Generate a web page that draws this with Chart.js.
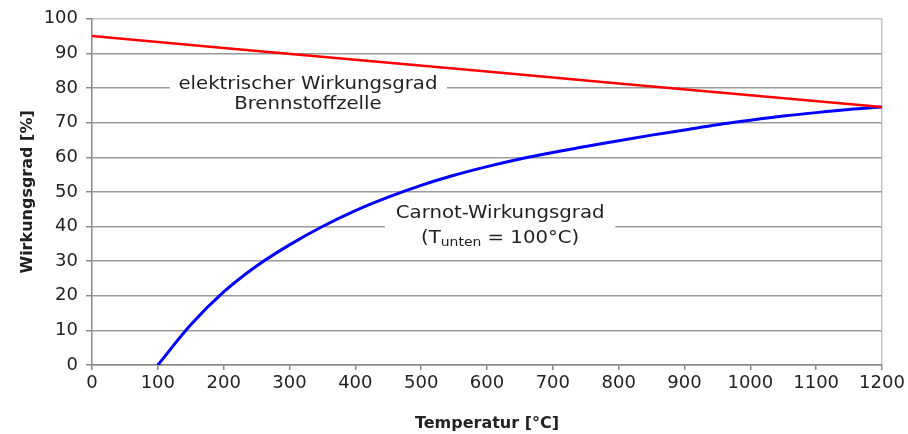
<!DOCTYPE html>
<html>
<head>
<meta charset="utf-8">
<script src="https://cdn.jsdelivr.net/npm/chart.js@4.4.1/dist/chart.umd.min.js"></script>
<style>
  html, body { margin: 0; padding: 0; background: #fff; }
  #wrap { width: 908px; height: 434px; }
</style>
</head>
<body>
<div id="wrap"><canvas id="myChart"></canvas></div>
<script>
// temperature in °C, efficiency in %
const redTemp = [0, 200, 400, 600, 800, 1000, 1200];
const redEta = [95, 91.6, 88.2, 84.8, 81.3, 77.9, 74.5];
const blueTemp = [100, 150, 200, 250, 300, 350, 400, 450, 500, 550, 600, 650, 700, 750, 800, 850, 900, 950, 1000, 1050, 1100, 1150, 1200];
const blueEta = [0, 11.6, 21.1, 28.6, 34.7, 40.0, 44.6, 48.5, 51.9, 54.8, 57.3, 59.5, 61.4, 63.1, 64.8, 66.4, 67.9, 69.4, 70.7, 71.9, 72.9, 73.8, 74.5];
const xTitle = 'Temperatur [°C]';
const yTitle = 'Wirkungsgrad [%]';
const fcLines = ['elektrischer Wirkungsgrad', 'Brennstoffzelle'];
const carnotLine = 'Carnot-Wirkungsgrad';

const FONT = "'DejaVu Sans', sans-serif";
const SX = 1.16; // the labels in the picture are drawn a bit wide

// text labels inside the plot, with white box behind them
const labelPlugin = {
  id: 'labels',
  beforeDatasetsDraw(chart) {
    const ctx = chart.ctx;
    const x = chart.scales.x, y = chart.scales.y;
    ctx.save();
    ctx.fillStyle = '#fff';
    // box over gridline 80
    ctx.fillRect(x.getPixelForValue(118), y.getPixelForValue(84.5), x.getPixelForValue(539) - x.getPixelForValue(118), y.getPixelForValue(71.5) - y.getPixelForValue(84.5));
    // box over gridline 40
    ctx.fillRect(x.getPixelForValue(445), y.getPixelForValue(48), x.getPixelForValue(795) - x.getPixelForValue(445), y.getPixelForValue(32.5) - y.getPixelForValue(48));

    ctx.fillStyle = '#222';
    ctx.textBaseline = 'middle';
    ctx.textAlign = 'center';
    const text = (s, cx, cy, size) => {
      ctx.save();
      ctx.font = size + 'px ' + FONT;
      ctx.translate(cx, cy);
      ctx.scale(SX, 1);
      ctx.fillText(s, 0, 0);
      ctx.restore();
    };
    const cx1 = x.getPixelForValue(328);
    text(fcLines[0], cx1, y.getPixelForValue(81.1), 17);
    text(fcLines[1], cx1, y.getPixelForValue(75.1), 17);

    const cx2 = x.getPixelForValue(620);
    text(carnotLine, cx2, y.getPixelForValue(43.6), 17);
    // (T_unten = 100°C)
    const py = y.getPixelForValue(36.4);
    const a = '(T', sub = 'unten', b = ' = 100°C)';
    ctx.font = '17px ' + FONT;
    const wa = ctx.measureText(a).width, wb = ctx.measureText(b).width;
    ctx.font = '12px ' + FONT;
    const ws = ctx.measureText(sub).width;
    ctx.translate(cx2, py);
    ctx.scale(SX, 1);
    const sx = -(wa + ws + wb) / 2;
    ctx.textAlign = 'left';
    ctx.font = '17px ' + FONT;
    ctx.fillText(a, sx, 0);
    ctx.font = '12px ' + FONT;
    ctx.fillText(sub, sx + wa, 4);
    ctx.font = '17px ' + FONT;
    ctx.fillText(b, sx + wa + ws, 0);
    ctx.restore();
  }
};

const ctx = document.getElementById('myChart').getContext('2d');
new Chart(ctx, {
  type: 'line',
  data: {
    datasets: [{
      data: redTemp.map((t, i) => ({ x: t, y: redEta[i] })),
      borderColor: '#ff0000',
      borderWidth: 2.5,
      pointRadius: 0,
      fill: false
    }, {
      data: blueTemp.map((t, i) => ({ x: t, y: blueEta[i] })),
      borderColor: '#0000ff',
      borderWidth: 3,
      pointRadius: 0,
      cubicInterpolationMode: 'monotone',
      fill: false
    }]
  },
  options: {
    responsive: true,
    maintainAspectRatio: false,
    animation: false,
    layout: { padding: { top: 16, right: 26, bottom: 0, left: 0 } },
    plugins: { legend: { display: false }, tooltip: { enabled: false } },
    scales: {
      x: {
        type: 'linear',
        min: 0, max: 1200,
        afterFit: (s) => { s.height = 69; },
        ticks: { stepSize: 100, color: '#222', font: { family: FONT, size: 18 }, padding: 3, maxRotation: 0, callback: (v) => String(v) },
        grid: {
          color: (c) => c.tick && c.tick.value === 1200 ? '#c4c4c4' : 'rgba(0,0,0,0)',
          tickColor: '#888',
          tickLength: 5,
          lineWidth: 1.5
        },
        border: { color: '#888', width: 1.5 },
        title: { display: true, text: xTitle, color: '#222', font: { family: FONT, size: 16, weight: 'bold' }, padding: { top: 0, bottom: 1 } }
      },
      y: {
        min: 0, max: 100,
        afterFit: (s) => { s.width = 92; },
        ticks: { stepSize: 10, color: '#222', font: { family: FONT, size: 18 }, padding: 8, callback: (v) => String(v) },
        grid: {
          color: (c) => c.tick && c.tick.value === 100 ? '#c4c4c4' : '#9a9a9a',
          tickColor: '#888',
          tickLength: 6,
          lineWidth: 1.5
        },
        border: { color: '#888', width: 1.5 },
        title: { display: true, text: yTitle, color: '#222', font: { family: FONT, size: 16, weight: 'bold' }, padding: { top: 18, bottom: 0 } }
      }
    }
  },
  plugins: [labelPlugin]
});
</script>
</body>
</html>
